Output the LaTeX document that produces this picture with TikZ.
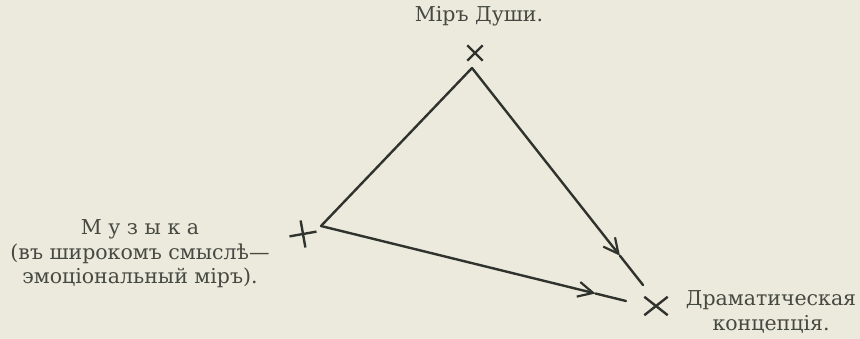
\documentclass[tikz,border=0pt]{standalone}
\usepackage{fontspec}
\setmainfont{DejaVu Serif}
\usepackage{xcolor}
\usetikzlibrary{arrows.meta,positioning,calc,shapes.misc}

\definecolor{paper}{RGB}{235,234,220}
\definecolor{ink}{RGB}{48,50,46}
\definecolor{print}{RGB}{70,72,66}

\begin{document}
\begin{tikzpicture}[
    x=1pt, y=-1pt,
    label/.style={text=print, font=\fontsize{20.5}{24.5}\selectfont, align=center, inner sep=0pt},
    xmark/.style={cross out, draw=ink, line width=2.4pt, minimum size=13pt, inner sep=0pt},
    edge/.style={draw=ink, line width=2.4pt, line cap=round, line join=round},
    arrow/.style={edge, -{Straight Barb[length=15pt,width=15pt,line width=2.2pt]}}
]
    \fill[paper] (0,0) rectangle (860,339);
    \useasboundingbox (0,0) rectangle (860,339);

    % marks and labels
    \node (soul) [label] at (479,16) {Міръ Души.};
    \node (music) [label] at (140,254) {М у з ы к а\\(въ широкомъ смыслѣ—\\эмоціональный міръ).};
    \node (drama) [label] at (771,312) {Драматическая\\концепція.};
    \node (xsoul) [xmark] at (475,53) {};
    \node (xmusic) [xmark, minimum size=17pt, rotate=55] at (303,234) {};
    \node (xdrama) [xmark, minimum width=21pt, minimum height=16pt] at (656,306) {};

    % triangle
    \coordinate (apex) at (472,68);
    \coordinate (lv) at (321,226);
    \coordinate (rend) at (643,285);
    \coordinate (bend) at (626,301);
    \coordinate (rtip) at ($(apex)!0.865!(rend)$);
    \coordinate (btip) at ($(lv)!0.9!(bend)$);

    \draw [edge] (apex) -- (lv);
    \draw [arrow] (apex) -- (rtip);
    \draw [edge] (rtip) -- (rend);
    \draw [arrow] (lv) -- (btip);
    \draw [edge] (btip) -- (bend);
\end{tikzpicture}
\end{document}
